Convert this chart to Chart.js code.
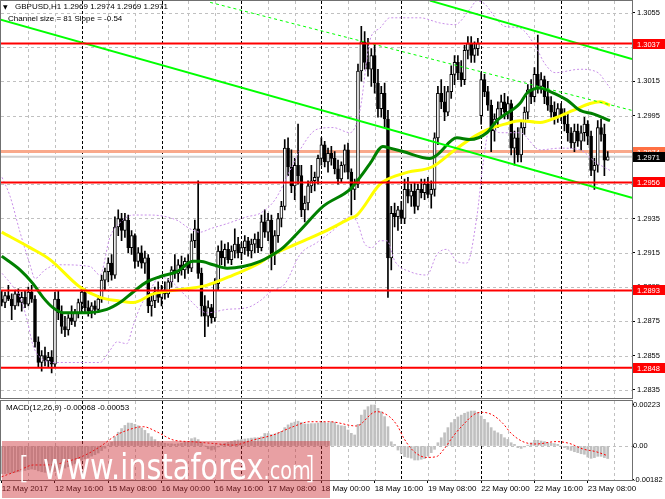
<!DOCTYPE html>
<html>
<head>
<meta charset="utf-8">
<title>GBPUSD H1</title>
<script src="https://cdn.jsdelivr.net/npm/chart.js@4.4.1/dist/chart.umd.min.js"></script>
<style>
  html, body { margin: 0; padding: 0; background: #fff; }
  #wrap { position: relative; width: 665px; height: 499px; overflow: hidden; font-family: "Liberation Sans", Arial, sans-serif; }
  canvas { position: absolute; left: 0; }
  #main { top: 0; }
  #macd { top: 399px; }
  .txt { position: absolute; font-size: 8px; line-height: 10px; color: #000; white-space: nowrap; }
  .tri { font-family: "DejaVu Sans", sans-serif; font-size: 6px; }
  #wm { position: absolute; left: 2px; top: 441px; width: 328px; height: 57px; background: rgba(205, 45, 50, 0.45); overflow: hidden; color: #fff; font-family: "DejaVu Sans", sans-serif; }
  #wm .br { position: absolute; top: 12px; font-size: 30px; line-height: 30px; font-weight: 200; }
  #wm .site { position: absolute; left: 41px; top: 8px; font-size: 36px; line-height: 36px; transform: scaleX(0.8); transform-origin: 0 0; white-space: nowrap; }
  #wm .site small { font-size: 24px; }
</style>
</head>
<body>
<div id="wrap">
  <canvas id="main" width="665" height="399"></canvas>
  <canvas id="macd" width="665" height="100"></canvas>
  <div class="txt" style="left:3px;top:2px"><span class="tri">&#9660;</span></div>
  <div class="txt" id="head" style="left:15px;top:2px"></div>
  <div class="txt" style="left:8px;top:14px">Channel size = 81 Slope = -0.54</div>
  <div class="txt" id="macdHead" style="left:6px;top:403px"></div>
  <div id="wm">
    <span class="br" style="left:16px">[</span>
    <span class="site">www.instaforex<small>.com</small></span>
    <span class="br" style="left:302px">]</span>
  </div>
</div>
<script>
// GBPUSD H1, bars from 12 May 2017 00:00 to 23 May 2017 14:00
var opens = [
  1.2888,1.2886,1.2890,1.2888,1.2884,1.2891,1.2886,1.2889,1.2885,1.2892,
  1.2888,1.2863,1.2851,1.2855,1.2852,1.2854,1.2850,1.2888,1.2880,1.2872,
  1.2870,1.2877,1.2875,1.2880,1.2886,1.2892,1.2883,1.2881,1.2884,1.2882,
  1.2888,1.2899,1.2904,1.2909,1.2902,1.2930,1.2935,1.2928,1.2934,1.2918,
  1.2925,1.2910,1.2915,1.2909,1.2912,1.2884,1.2887,1.2892,1.2889,1.2893,
  1.2891,1.2898,1.2905,1.2903,1.2908,1.2905,1.2910,1.2906,1.2922,1.2929,
  1.2903,1.2884,1.2878,1.2883,1.2877,1.2897,1.2916,1.2912,1.2917,1.2911,
  1.2916,1.2920,1.2915,1.2918,1.2922,1.2916,1.2920,1.2923,1.2918,1.2933,
  1.2927,1.2934,1.2914,1.2925,1.2935,1.2942,1.2976,1.2965,1.2954,1.2966,
  1.2960,1.2940,1.2944,1.2954,1.2957,1.2959,1.2970,1.2978,1.2968,1.2973,
  1.2970,1.2964,1.2958,1.2966,1.2975,1.2962,1.2952,1.2955,1.3021,1.3038,
  1.3026,1.3022,1.3030,1.3014,1.2999,1.3008,1.2993,1.2912,1.2938,1.2936,
  1.2940,1.2935,1.2952,1.2948,1.2951,1.2942,1.2952,1.2950,1.2955,1.2949,
  1.2952,1.2982,1.3008,1.3003,1.2997,1.3009,1.3019,1.3026,1.3020,1.3016,
  1.3033,1.3037,1.3030,1.3034,1.2995,1.3016,1.3009,1.3001,1.2986,1.2993,
  1.2999,1.3003,1.2997,1.3002,1.2976,1.2982,1.2972,1.2988,1.2997,1.3010,
  1.3006,1.3019,1.3012,1.3016,1.3006,1.3001,1.2997,1.2994,1.2999,1.2995,
  1.2990,1.2985,1.2979,1.2986,1.2980,1.2985,1.2990,1.2983,1.2963,1.2966,
  1.2988,1.2984,1.2969
];
var highs = [
  1.2893,1.2892,1.2896,1.2891,1.2893,1.2894,1.2892,1.2893,1.2895,1.2896,
  1.2890,1.2866,1.2858,1.2860,1.2857,1.2858,1.2892,1.2893,1.2884,1.2878,
  1.2879,1.2884,1.2882,1.2888,1.2895,1.2894,1.2887,1.2886,1.2887,1.2890,
  1.2902,1.2906,1.2912,1.2914,1.2936,1.2940,1.2938,1.2938,1.2937,1.2928,
  1.2926,1.2918,1.2919,1.2916,1.2914,1.2891,1.2895,1.2898,1.2896,1.2898,
  1.2900,1.2907,1.2914,1.2911,1.2913,1.2912,1.2914,1.2926,1.2934,1.2957,
  1.2906,1.2890,1.2887,1.2885,1.2900,1.2919,1.2922,1.2920,1.2921,1.2919,
  1.2929,1.2924,1.2921,1.2925,1.2924,1.2923,1.2926,1.2927,1.2937,1.2940,
  1.2938,1.2937,1.2928,1.2938,1.2945,1.2981,1.2982,1.2975,1.2970,1.2990,
  1.2966,1.2948,1.2957,1.2966,1.2962,1.2972,1.2982,1.2980,1.2976,1.2977,
  1.2974,1.2969,1.2968,1.2978,1.2979,1.2964,1.2958,1.3025,1.3047,1.3044,
  1.3040,1.3034,1.3036,1.3022,1.3012,1.3014,1.2998,1.2942,1.2944,1.2942,
  1.2945,1.2958,1.2959,1.2955,1.2956,1.2955,1.2958,1.2958,1.2959,1.2957,
  1.2985,1.3012,1.3016,1.3012,1.3012,1.3024,1.3030,1.3030,1.3027,1.3036,
  1.3041,1.3041,1.3038,1.3040,1.3020,1.3019,1.3012,1.3004,1.2996,1.3003,
  1.3007,1.3008,1.3006,1.3004,1.2986,1.2988,1.2992,1.3000,1.3013,1.3016,
  1.3023,1.3042,1.3020,1.3018,1.3015,1.3006,1.3003,1.3002,1.3002,1.2999,
  1.2996,1.2988,1.2990,1.2990,1.2989,1.2994,1.2992,1.2986,1.2970,1.2992,
  1.2993,1.2990,1.2974
];
var lows = [
  1.2884,1.2883,1.2887,1.2876,1.2882,1.2884,1.2881,1.2883,1.2884,1.2886,
  1.2860,1.2848,1.2846,1.2849,1.2848,1.2845,1.2848,1.2876,1.2868,1.2866,
  1.2867,1.2873,1.2872,1.2877,1.2880,1.2880,1.2878,1.2877,1.2879,1.2880,
  1.2886,1.2893,1.2898,1.2899,1.2900,1.2925,1.2922,1.2924,1.2915,1.2914,
  1.2906,1.2907,1.2906,1.2903,1.2880,1.2878,1.2883,1.2886,1.2884,1.2888,
  1.2889,1.2895,1.2900,1.2898,1.2902,1.2900,1.2903,1.2904,1.2918,1.2900,
  1.2878,1.2866,1.2872,1.2874,1.2875,1.2893,1.2908,1.2907,1.2909,1.2908,
  1.2912,1.2912,1.2911,1.2914,1.2913,1.2912,1.2915,1.2915,1.2916,1.2924,
  1.2922,1.2905,1.2908,1.2921,1.2930,1.2940,1.2960,1.2950,1.2946,1.2955,
  1.2936,1.2933,1.2940,1.2950,1.2951,1.2955,1.2966,1.2965,1.2962,1.2966,
  1.2961,1.2955,1.2956,1.2962,1.2958,1.2937,1.2946,1.2953,1.3015,1.3022,
  1.3018,1.3012,1.3008,1.2994,1.2994,1.2988,1.2889,1.2905,1.2930,1.2928,
  1.2932,1.2932,1.2944,1.2942,1.2938,1.2940,1.2947,1.2946,1.2947,1.2941,
  1.2948,1.2978,1.2999,1.2992,1.2995,1.3005,1.3013,1.3016,1.3012,1.3013,
  1.3028,1.3026,1.3026,1.3030,1.2990,1.3006,1.2998,1.2974,1.2980,1.2988,
  1.2994,1.2993,1.2993,1.2972,1.2966,1.2968,1.2968,1.2984,1.2993,1.3002,
  1.3003,1.3008,1.3008,1.3002,1.2998,1.2994,1.2990,1.2991,1.2992,1.2986,
  1.2980,1.2976,1.2974,1.2977,1.2975,1.2980,1.2978,1.2960,1.2952,1.2962,
  1.2980,1.2960,1.2969
];
var closes = [
  1.2886,1.2890,1.2888,1.2884,1.2891,1.2886,1.2889,1.2885,1.2892,1.2888,
  1.2863,1.2851,1.2855,1.2852,1.2854,1.2850,1.2888,1.2880,1.2872,1.2870,
  1.2877,1.2875,1.2880,1.2886,1.2892,1.2883,1.2881,1.2884,1.2882,1.2888,
  1.2899,1.2904,1.2909,1.2902,1.2930,1.2935,1.2928,1.2934,1.2918,1.2925,
  1.2910,1.2915,1.2909,1.2912,1.2884,1.2887,1.2892,1.2889,1.2893,1.2891,
  1.2898,1.2905,1.2903,1.2908,1.2905,1.2910,1.2906,1.2922,1.2929,1.2903,
  1.2884,1.2878,1.2883,1.2877,1.2897,1.2916,1.2912,1.2917,1.2911,1.2916,
  1.2920,1.2915,1.2918,1.2922,1.2916,1.2920,1.2923,1.2918,1.2933,1.2927,
  1.2934,1.2914,1.2925,1.2935,1.2942,1.2976,1.2965,1.2954,1.2966,1.2960,
  1.2940,1.2944,1.2954,1.2957,1.2959,1.2970,1.2978,1.2968,1.2973,1.2970,
  1.2964,1.2958,1.2966,1.2975,1.2962,1.2952,1.2955,1.3021,1.3038,1.3026,
  1.3022,1.3030,1.3014,1.2999,1.3008,1.2993,1.2912,1.2938,1.2936,1.2940,
  1.2935,1.2952,1.2948,1.2951,1.2942,1.2952,1.2950,1.2955,1.2949,1.2952,
  1.2982,1.3008,1.3003,1.2997,1.3009,1.3019,1.3026,1.3020,1.3016,1.3033,
  1.3037,1.3030,1.3034,1.3037,1.3016,1.3009,1.3001,1.2986,1.2993,1.2999,
  1.3003,1.2997,1.3002,1.2976,1.2982,1.2972,1.2988,1.2997,1.3010,1.3006,
  1.3019,1.3012,1.3016,1.3006,1.3001,1.2997,1.2994,1.2999,1.2995,1.2990,
  1.2985,1.2979,1.2986,1.2980,1.2985,1.2990,1.2983,1.2963,1.2966,1.2988,
  1.2984,1.2969,1.2971
];

// moving averages (bar index, price)
var maYellowIdx = [0, 8.5, 14.5, 23.5, 29.5, 35, 39.5, 45.5, 55.5, 61.5, 69.5, 77.5, 80.5, 89.6, 97.7, 104.6, 106.7, 113.6, 116, 122, 129.2, 136.1, 142.1, 146, 151.1, 155.6, 161.7, 166.8, 171.6, 176.7, 179.7, 182.7];
var maYellowVal = [1.2927, 1.2918, 1.2911, 1.2895, 1.2889, 1.2887, 1.2886, 1.2891, 1.2894, 1.2896, 1.2902, 1.2909, 1.2913, 1.2921, 1.2928, 1.2935, 1.2937, 1.2955, 1.2958, 1.2962, 1.2965, 1.2975, 1.2983, 1.2987, 1.2990, 1.2992, 1.2991, 1.2994, 1.2998, 1.3002, 1.3003, 1.3001];
var maGreenIdx = [0, 5.5, 9.4, 12.4, 15.4, 18.4, 21.4, 25.6, 31.6, 35.5, 39.4, 43.6, 47.5, 52.6, 57.5, 59.5, 63.5, 67.7, 72.5, 77.6, 80.6, 84.5, 89.6, 96.5, 104.6, 107.6, 110.6, 114.5, 116.6, 120.5, 128.6, 130.7, 136.7, 140.6, 145.7, 148.7, 155.6, 157.7, 161.7, 164.7, 169.8, 173.7, 177.6, 182.7];
var maGreenVal = [1.2913, 1.2905, 1.2897, 1.2889, 1.2883, 1.2880, 1.2880, 1.2880, 1.2882, 1.2886, 1.2892, 1.2898, 1.2901, 1.2904, 1.2910, 1.2910, 1.2908, 1.2906, 1.2907, 1.2910, 1.2913, 1.2918, 1.2928, 1.2942, 1.2952, 1.2959, 1.2967, 1.2977, 1.2976, 1.2974, 1.2970, 1.2972, 1.2982, 1.2981, 1.2985, 1.2992, 1.3002, 1.3008, 1.3011, 1.3009, 1.3004, 1.2998, 1.2996, 1.2992];

// bands (dashed violet)
var bandUpIdx = [0.1, 2.5, 5.5, 8.5, 10, 13, 16.6, 26.5, 29.5, 32.5, 36.4, 39.4, 44.5, 52.6, 56.5, 59.6, 62.6, 67.7, 73.7, 77.6, 82.1, 86.6, 89.6, 94.7, 99.5, 104.6, 107.6, 110.6, 113.6, 116.6, 125.6, 131.6, 136.1, 140.6, 142.7, 145.1, 148.7, 151.1, 155.6, 160.1, 163.2, 166.2, 173.7, 179.1, 181.2, 182.7];
var bandUpVal = [1.2959, 1.2948, 1.2927, 1.2908, 1.2900, 1.2905, 1.2908, 1.2907, 1.2902, 1.2924, 1.2934, 1.2937, 1.2937, 1.2934, 1.2929, 1.2927, 1.2929, 1.2932, 1.2936, 1.2938, 1.2946, 1.2963, 1.2975, 1.2987, 1.2988, 1.2985, 1.2998, 1.3039, 1.3046, 1.3052, 1.3052, 1.3049, 1.3048, 1.3057, 1.3062, 1.3060, 1.3051, 1.3047, 1.3046, 1.3036, 1.3025, 1.3020, 1.3022, 1.3020, 1.3015, 1.3011];
var bandLowIdx = [0.1, 3.1, 5.5, 7.6, 9.4, 11.5, 16.6, 29.5, 32.5, 34.6, 37.6, 39.4, 41.5, 44.5, 47.5, 51.1, 55.7, 61.7, 67.7, 73.7, 77.6, 80.6, 85.1, 89.6, 94.7, 99.5, 104.6, 106.7, 109.1, 111.2, 113.6, 115.7, 118.1, 122.6, 127.7, 130.7, 133.7, 136.7, 139.7, 142.7, 144.5, 146.6, 149.6, 155.6, 161.7, 167.7, 173.7, 178.2, 182.7];
var bandLowVal = [1.2903, 1.2896, 1.2889, 1.2876, 1.2861, 1.2854, 1.2851, 1.2851, 1.2858, 1.2863, 1.2862, 1.2872, 1.2883, 1.2893, 1.2901, 1.2898, 1.2889, 1.2880, 1.2882, 1.2883, 1.2887, 1.2892, 1.2897, 1.2914, 1.2921, 1.2928, 1.2936, 1.2933, 1.2920, 1.2918, 1.2922, 1.2922, 1.2910, 1.2904, 1.2902, 1.2914, 1.2917, 1.2910, 1.2909, 1.2936, 1.2966, 1.2988, 1.2985, 1.2985, 1.2975, 1.2976, 1.2975, 1.2968, 1.2963];

// regression channel: end points (bar index, price)
var channelLowIdx = [-0.5, 189.3];
var channelLowVal = [1.3051, 1.2947];
var channelUpIdx = [128.6, 189.3];
var channelUpVal = [1.3062, 1.3028];
var channelMidIdx = [62.6, 189.3];
var channelMidVal = [1.3061, 1.2998];

// horizontal levels
var levels = [1.3037, 1.2956, 1.2893, 1.2848];
var askLine = 1.2974;
var bidLine = 1.2971;
var priceTicks = [1.2835, 1.2855, 1.2875, 1.2895, 1.2915, 1.2935, 1.2955, 1.2975, 1.2995, 1.3015, 1.3035, 1.3055];

// MACD(12,26,9)
var macdHist = [
  -0.00150,-0.00150,-0.00148,-0.00146,-0.00143,-0.00140,-0.00137,-0.00133,-0.00128,-0.00125,
  -0.00128,-0.00135,-0.00140,-0.00143,-0.00145,-0.00146,-0.00138,-0.00130,-0.00125,-0.00120,
  -0.00113,-0.00105,-0.00097,-0.00088,-0.00078,-0.00070,-0.00063,-0.00055,-0.00047,-0.00038,
  -0.00025,-0.00012,0.00005,0.00022,0.00050,0.00075,0.00095,0.00112,0.00125,0.00124,
  0.00118,0.00110,0.00098,0.00085,0.00068,0.00050,0.00035,0.00025,0.00018,0.00015,
  0.00012,0.00012,0.00010,0.00012,0.00015,0.00020,0.00022,0.00040,0.00045,0.00035,
  0.00018,0.00000,-0.00015,-0.00022,-0.00018,-0.00005,0.00008,0.00015,0.00020,0.00025,
  0.00030,0.00033,0.00035,0.00038,0.00040,0.00043,0.00045,0.00045,0.00050,0.00068,
  0.00068,0.00062,0.00065,0.00072,0.00080,0.00100,0.00115,0.00125,0.00130,0.00135,
  0.00128,0.00120,0.00120,0.00122,0.00122,0.00125,0.00128,0.00128,0.00125,0.00132,
  0.00128,0.00114,0.00110,0.00108,0.00087,0.00069,0.00060,0.00118,0.00168,0.00196,
  0.00214,0.00223,0.00223,0.00205,0.00187,0.00160,0.00105,0.00023,0.00009,-0.00022,
  -0.00040,-0.00058,-0.00062,-0.00066,-0.00076,-0.00076,-0.00072,-0.00068,-0.00054,-0.00036,
  -0.00018,0.00018,0.00045,0.00072,0.00100,0.00127,0.00145,0.00158,0.00168,0.00178,
  0.00185,0.00190,0.00190,0.00182,0.00163,0.00145,0.00127,0.00100,0.00082,0.00072,
  0.00063,0.00045,0.00036,0.00018,0.00009,-0.00009,-0.00013,-0.00005,0.00005,0.00018,
  0.00031,0.00031,0.00027,0.00024,0.00018,0.00015,0.00013,0.00009,0.00000,-0.00009,
  -0.00018,-0.00024,-0.00031,-0.00036,-0.00042,-0.00045,-0.00060,-0.00067,-0.00063,-0.00056,
  -0.00056,-0.00063,-0.00068
];
var signalIdx = [0, 5.5, 9.5, 14.5, 19.5, 24.5, 29.5, 34.5, 39.5, 42.5, 46.5, 51.5, 57.5, 63.5, 69.5, 75.5, 81.5, 87.5, 92.5, 98.5, 106.5, 112.5, 116.5, 119, 120.5, 122.5, 124.5, 127.5, 130.5, 133, 135.5, 138.5, 142.5, 144.5, 147.5, 150.5, 153, 156.5, 160.5, 166.5, 170.5, 174.5, 178.5, 182];
var signalVal = [-0.00167, -0.00130, -0.00103, -0.00103, -0.00085, -0.00054, -0.00004, 0.00060, 0.00096, 0.00105, 0.00078, 0.00033, 0.00023, 0.00014, 0.00005, 0.00033, 0.00060, 0.00105, 0.00132, 0.00132, 0.00109, 0.00187, 0.00159, 0.00105, 0.00051, -0.00004, -0.00040, -0.00062, -0.00058, -0.00013, 0.00051, 0.00114, 0.00178, 0.00183, 0.00168, 0.00123, 0.00069, 0.00024, 0.00011, 0.00024, 0.00014, -0.00016, -0.00031, -0.00053];
var macdTicks = [-0.00182, 0, 0.00223];

// time axis
var timeIdx = [0, 16, 32, 48, 64, 80, 96, 112, 128, 144, 160, 176];
var timeLabels = ['12 May 2017', '12 May 16:00', '15 May 08:00', '16 May 00:00', '16 May 16:00', '17 May 08:00',
                  '18 May 00:00', '18 May 16:00', '19 May 08:00', '22 May 00:00', '22 May 16:00', '23 May 08:00'];

var gridStep = 8;   // bars between grid lines
var dayStep = 24;   // bars per day (period separators)
var xMin = -0.21, xMax = 189.29;
var fontFamily = '"Liberation Sans", Arial, sans-serif';

Chart.defaults.font.family = fontFamily;
Chart.defaults.font.size = 8;
Chart.defaults.color = '#000';
Chart.defaults.animation = false;

var last = closes.length - 1;
document.getElementById('head').textContent = 'GBPUSD,H1  ' + opens[last].toFixed(4) + ' ' + highs[last].toFixed(4) + ' ' + lows[last].toFixed(4) + ' ' + closes[last].toFixed(4);
document.getElementById('macdHead').textContent = 'MACD(12,26,9) ' + macdHist[last].toFixed(5) + ' ' + signalVal[signalVal.length - 1].toFixed(5);

function pts(idx, val) {
    return idx.map(function (x, k) { return { x: x, y: val[k] }; });
}

function gridPlugin(hLines) {
    return {
        id: 'mtGrid',
        beforeDatasetsDraw: function (chart) {
            var ctx = chart.ctx, a = chart.chartArea, x = chart.scales.x, y = chart.scales.y;
            ctx.save();
            ctx.lineWidth = 1;
            ctx.strokeStyle = '#c0c0c0';
            ctx.setLineDash([3, 3]);
            hLines.forEach(function (v) {
                var py = Math.round(y.getPixelForValue(v)) + 0.5;
                ctx.beginPath(); ctx.moveTo(a.left, py); ctx.lineTo(a.right, py); ctx.stroke();
            });
            for (var i = gridStep; i < xMax; i += gridStep) {
                var px = Math.round(x.getPixelForValue(i)) + 0.5;
                var isDay = i % dayStep === 0;
                ctx.strokeStyle = isDay ? '#000' : '#c0c0c0';
                ctx.setLineDash(isDay ? [3, 2] : [3, 3]);
                ctx.beginPath(); ctx.moveTo(px, a.top); ctx.lineTo(px, a.bottom); ctx.stroke();
            }
            ctx.restore();
        },
        afterDraw: function (chart) {
            var ctx = chart.ctx, a = chart.chartArea;
            ctx.save();
            ctx.strokeStyle = '#707070';
            ctx.lineWidth = 1;
            ctx.strokeRect(Math.round(a.left) - 0.5, Math.round(a.top) - 0.5, Math.round(a.width) + 1, Math.round(a.height) + 1);
            ctx.restore();
        }
    };
}

function hline(chart, v, color, width) {
    var ctx = chart.ctx, a = chart.chartArea;
    var py = chart.scales.y.getPixelForValue(v);
    ctx.save();
    ctx.strokeStyle = color;
    ctx.lineWidth = width;
    ctx.beginPath(); ctx.moveTo(a.left, py); ctx.lineTo(a.right, py); ctx.stroke();
    ctx.restore();
}

function priceBox(chart, v, color) {
    var ctx = chart.ctx, a = chart.chartArea;
    var py = chart.scales.y.getPixelForValue(v);
    ctx.save();
    ctx.fillStyle = color;
    ctx.fillRect(a.right + 1, Math.round(py) - 5, chart.width - a.right - 1, 10);
    ctx.fillStyle = '#fff';
    ctx.font = '7.5px ' + fontFamily;
    ctx.textBaseline = 'middle';
    ctx.fillText(v.toFixed(4), a.right + 5, Math.round(py) + 0.5);
    ctx.restore();
}

var levelPlugin = {
    id: 'levels',
    beforeDatasetsDraw: function (chart) {
        hline(chart, askLine, '#f9a98b', 3);
        hline(chart, bidLine, '#d0d0d0', 2);
    },
    afterDatasetsDraw: function (chart) {
        levels.forEach(function (v) { hline(chart, v, '#ff0000', 2); });
    },
    afterDraw: function (chart) {
        levels.forEach(function (v) { priceBox(chart, v, '#ff0000'); });
        priceBox(chart, askLine, '#ff7043');
        priceBox(chart, bidLine, '#000');
    }
};

var wicks = highs.map(function (h, i) { return { x: i, y: [lows[i], h] }; });
var bodies = opens.map(function (o, i) { return { x: i, y: [o, closes[i]] }; });
function isBull(c) { return closes[c.dataIndex] >= opens[c.dataIndex]; }

new Chart(document.getElementById('main'), {
    type: 'bar',
    data: {
        datasets: [
            { data: wicks, backgroundColor: '#000', barThickness: 1, grouped: false, order: 10 },
            { data: bodies, grouped: false, order: 9, barThickness: 3, minBarLength: 1,
              backgroundColor: function (c) { return isBull(c) ? '#ffffff' : '#000000'; },
              borderColor: '#000', borderWidth: 1, borderSkipped: false },
            { type: 'line', data: pts(bandUpIdx, bandUpVal), borderColor: '#c88fe8', borderWidth: 1, borderDash: [2, 2], pointRadius: 0, cubicInterpolationMode: 'monotone', order: 5 },
            { type: 'line', data: pts(bandLowIdx, bandLowVal), borderColor: '#c88fe8', borderWidth: 1, borderDash: [2, 2], pointRadius: 0, cubicInterpolationMode: 'monotone', order: 5 },
            { type: 'line', data: pts(maYellowIdx, maYellowVal), borderColor: '#ffff00', borderWidth: 3, pointRadius: 0, cubicInterpolationMode: 'monotone', order: 4 },
            { type: 'line', data: pts(maGreenIdx, maGreenVal), borderColor: '#008000', borderWidth: 3, pointRadius: 0, cubicInterpolationMode: 'monotone', order: 3 },
            { type: 'line', data: pts(channelLowIdx, channelLowVal), borderColor: '#00ff00', borderWidth: 2, pointRadius: 0, order: 1 },
            { type: 'line', data: pts(channelUpIdx, channelUpVal), borderColor: '#00ff00', borderWidth: 2, pointRadius: 0, order: 1 },
            { type: 'line', data: pts(channelMidIdx, channelMidVal), borderColor: '#00ff00', borderWidth: 1, borderDash: [3, 3], pointRadius: 0, order: 1 }
        ]
    },
    options: {
        responsive: false,
        events: [],
        layout: { padding: { left: 1, top: 1, right: 0, bottom: 1.5 } },
        plugins: { legend: { display: false }, tooltip: { enabled: false } },
        scales: {
            x: { type: 'linear', min: xMin, max: xMax, offset: false, display: false },
            y: {
                position: 'right', min: 1.28306, max: 1.30618,
                afterBuildTicks: function (s) { s.ticks = priceTicks.map(function (v) { return { value: v }; }); },
                afterFit: function (s) { s.width = 33; s.paddingTop = 0; s.paddingBottom = 0; },
                ticks: { padding: 2, color: '#000', font: { size: 7.5 }, callback: function (v) { return v.toFixed(4); } },
                grid: { drawOnChartArea: false, tickLength: 3, color: '#000' },
                border: { display: false }
            }
        }
    },
    plugins: [gridPlugin(priceTicks), levelPlugin]
});

new Chart(document.getElementById('macd'), {
    type: 'bar',
    data: {
        datasets: [
            { data: macdHist.map(function (v, i) { return { x: i, y: v }; }), backgroundColor: '#c0c0c0', barThickness: 2, order: 2 },
            { type: 'line', data: pts(signalIdx, signalVal), borderColor: '#ff0000', borderWidth: 1, borderDash: [2, 2], pointRadius: 0, cubicInterpolationMode: 'monotone', order: 1 }
        ]
    },
    options: {
        responsive: false,
        events: [],
        layout: { padding: { left: 1, top: 2, right: 0, bottom: 0 } },
        plugins: { legend: { display: false }, tooltip: { enabled: false } },
        scales: {
            x: {
                type: 'linear', min: xMin, max: xMax, offset: false,
                afterBuildTicks: function (s) { s.ticks = timeIdx.map(function (v) { return { value: v }; }); },
                afterFit: function (s) { s.height = 19; s.paddingLeft = 0; s.paddingRight = 0; },
                ticks: { align: 'start', autoSkip: false, maxRotation: 0, padding: 1, color: '#000',
                         callback: function (v, k) { return timeLabels[k]; } },
                grid: { drawOnChartArea: false, offset: false, tickLength: 3, color: '#000' },
                border: { display: false }
            },
            y: {
                position: 'right', min: -0.001847, max: 0.002447,
                afterBuildTicks: function (s) { s.ticks = macdTicks.map(function (v) { return { value: v }; }); },
                afterFit: function (s) { s.width = 33; s.paddingTop = 0; s.paddingBottom = 0; },
                ticks: { padding: -1, color: '#000', font: { size: 7.5 }, callback: function (v) { return v === 0 ? '0.00' : v.toFixed(5); } },
                grid: { drawOnChartArea: false, tickLength: 2, color: '#000' },
                border: { display: false }
            }
        }
    },
    plugins: [gridPlugin([0])]
});
</script>
</body>
</html>
